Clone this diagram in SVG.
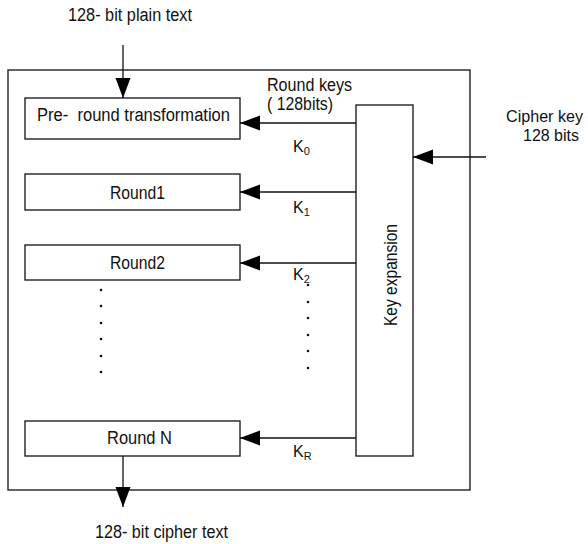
<svg xmlns="http://www.w3.org/2000/svg" width="588" height="544" viewBox="0 0 588 544">
<defs>
<style>
.box{fill:#fff;stroke:#222;stroke-width:1.4}
.frame{fill:none;stroke:#222;stroke-width:1.4}
.ln{fill:none;stroke:#111;stroke-width:1.3;marker-end:url(#ah)}
text{font-family:"Liberation Sans",Arial,sans-serif;font-size:18px;fill:#111}
.sm{font-size:16px}
.k{font-size:16px}
.sub{font-size:11px}
.dot{fill:#111}
</style>
<marker id="ah" markerUnits="userSpaceOnUse" markerWidth="22" markerHeight="16" refX="20" refY="7.5" orient="auto">
<path d="M0,0 L20,7.5 L0,15 z" fill="#000"/>
</marker>
</defs>
<rect width="588" height="544" fill="#fff"/>
<g id="frame"><rect class="frame" x="8" y="70" width="462" height="420"/></g>
<g id="pre-round"><rect class="box" x="25" y="98" width="215" height="41"/><text x="37" y="121" textLength="193" lengthAdjust="spacingAndGlyphs">Pre-&#160; round transformation</text></g>
<g id="round1"><rect class="box" x="25" y="174" width="215" height="36"/><text x="110" y="199" textLength="55" lengthAdjust="spacingAndGlyphs">Round1</text></g>
<g id="round2"><rect class="box" x="25" y="245" width="215" height="35"/><text x="110" y="269" textLength="55" lengthAdjust="spacingAndGlyphs">Round2</text></g>
<g id="roundN"><rect class="box" x="25" y="421" width="215" height="35"/><text x="107" y="444" textLength="65" lengthAdjust="spacingAndGlyphs">Round N</text></g>
<g id="key-expansion"><rect class="box" x="356" y="105" width="57" height="351"/><text transform="translate(397,326) rotate(-90)" textLength="102" lengthAdjust="spacingAndGlyphs">Key expansion</text></g>
<g id="labels">
<text x="68" y="21" textLength="124" lengthAdjust="spacingAndGlyphs">128- bit plain text</text>
<text x="267" y="91" textLength="85" lengthAdjust="spacingAndGlyphs">Round keys</text>
<text x="267" y="110" textLength="66" lengthAdjust="spacingAndGlyphs">( 128bits)</text>
<text class="sm" x="506" y="122" textLength="77" lengthAdjust="spacingAndGlyphs">Cipher key</text>
<text class="sm" x="523" y="141" textLength="56" lengthAdjust="spacingAndGlyphs">128 bits</text>
<text x="95" y="538" textLength="133" lengthAdjust="spacingAndGlyphs">128- bit cipher text</text>
<text class="k" x="293" y="152">K<tspan class="sub" dy="3">0</tspan></text>
<text class="k" x="293" y="213">K<tspan class="sub" dy="3">1</tspan></text>
<text class="k" x="293" y="280">K<tspan class="sub" dy="3">2</tspan></text>
<text class="k" x="293" y="457">K<tspan class="sub" dy="3">R</tspan></text>
</g>
<g id="dots">
<circle class="dot" cx="101" cy="290" r="1.3"/><circle class="dot" cx="101" cy="306" r="1.3"/><circle class="dot" cx="101" cy="323" r="1.3"/><circle class="dot" cx="101" cy="339" r="1.3"/><circle class="dot" cx="101" cy="356" r="1.3"/><circle class="dot" cx="101" cy="372" r="1.3"/>
<circle class="dot" cx="308" cy="285" r="1.3"/><circle class="dot" cx="308" cy="302" r="1.3"/><circle class="dot" cx="308" cy="318" r="1.3"/><circle class="dot" cx="308" cy="335" r="1.3"/><circle class="dot" cx="308" cy="351" r="1.3"/><circle class="dot" cx="308" cy="368" r="1.3"/>
</g>
<g id="connectors">
<line class="ln" x1="123" y1="45" x2="123" y2="98"/>
<line class="ln" x1="356" y1="123" x2="240" y2="123"/>
<line class="ln" x1="356" y1="192" x2="240" y2="192"/>
<line class="ln" x1="356" y1="263" x2="240" y2="263"/>
<line class="ln" x1="356" y1="438" x2="240" y2="438"/>
<line class="ln" x1="486" y1="157" x2="413" y2="157"/>
<line class="ln" x1="123" y1="456" x2="123" y2="507"/>
</g>
</svg>
